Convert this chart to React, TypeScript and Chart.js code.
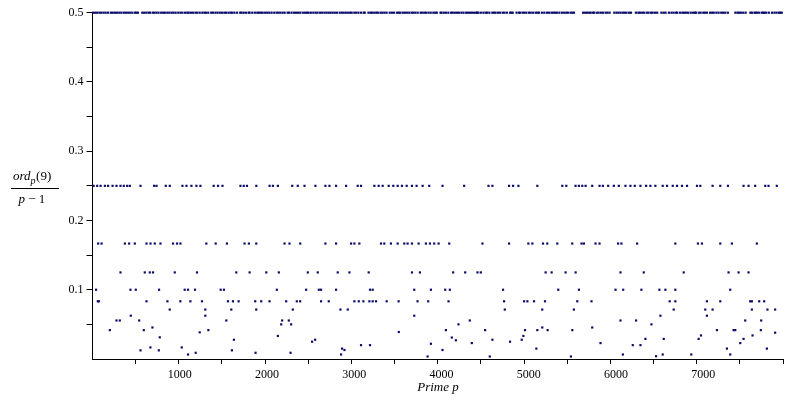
import React, { useEffect, useRef } from "react";
import { Chart, registerables } from "chart.js";

Chart.register(...registerables);

// Primes p where ord_p(9)/(p-1) sits on one of the main levels
const halfPrimes = [
  5, 29, 53, 79, 101, 127, 151, 179, 211, 233, 257, 281, 307, 331, 359, 383,
  409, 433, 457, 487, 503, 521, 571, 593, 617, 643, 661, 691, 709, 733, 757, 787,
  811, 829, 857, 881, 907, 929, 953, 983, 1009, 1031, 1061, 1087, 1103, 1129, 1153, 1181,
  1201, 1229, 1259, 1283, 1301, 1327, 1361, 1381, 1409, 1433, 1459, 1483, 1511, 1531, 1559, 1583,
  1601, 1627, 1657, 1693, 1709, 1733, 1759, 1789, 1801, 1831, 1861, 1889, 1907, 1931, 1951, 1979,
  2003, 2027, 2053, 2083, 2111, 2131, 2153, 2179, 2203, 2237, 2251, 2281, 2309, 2333, 2357, 2381,
  2411, 2437, 2459, 2477, 2503, 2531, 2557, 2579, 2609, 2633, 2659, 2683, 2707, 2729, 2753, 2777,
  2801, 2833, 2857, 2879, 2903, 2927, 2953, 2971, 3001, 3023, 3049, 3079, 3109, 3121, 3163, 3187,
  3203, 3229, 3253, 3271, 3301, 3323, 3347, 3371, 3407, 3433, 3457, 3491, 3511, 3529, 3557, 3581,
  3607, 3631, 3659, 3677, 3701, 3727, 3761, 3779, 3803, 3823, 3851, 3877, 3907, 3929, 3947, 3989,
  4001, 4027, 4051, 4079, 4111, 4129, 4153, 4177, 4201, 4229, 4253, 4283, 4303, 4327, 4349, 4373,
  4397, 4409, 4423, 4451, 4481, 4507, 4523, 4549, 4583, 4603, 4621, 4649, 4673, 4703, 4723, 4751,
  4787, 4801, 4817, 4861, 4889, 4903, 4931, 4951, 4973, 5003, 5023, 5051, 5081, 5101, 5119, 5153,
  5179, 5209, 5233, 5261, 5281, 5303, 5323, 5351, 5381, 5407, 5431, 5449, 5479, 5501, 5519, 5623,
  5647, 5669, 5693, 5711, 5737, 5749, 5779, 5801, 5827, 5851, 5881, 5903, 5927, 5981, 6007, 6029,
  6053, 6079, 6101, 6121, 6151, 6173, 6229, 6257, 6277, 6301, 6323, 6353, 6373, 6401, 6421, 6449,
  6473, 6521, 6547, 6569, 6607, 6637, 6661, 6689, 6701, 6733, 6761, 6781, 6803, 6827, 6857, 6883,
  6907, 6917, 6949, 6971, 7001, 7019, 7043, 7079, 7103, 7121, 7151, 7177, 7207, 7229, 7253, 7283,
  7369, 7393, 7411, 7433, 7459, 7487, 7541, 7561, 7589, 7603, 7621, 7643, 7673, 7691, 7703, 7723,
  7753, 7789, 7817, 7841, 7867, 7883, 7901,
];

const quarterPrimes = [
  13, 54, 93, 142, 179, 230, 275, 321, 359, 397, 428, 550, 706, 734, 840, 886, 1031, 1077,
  1134, 1191, 1237, 1389, 1439, 1490, 1696, 1734, 1771, 1878, 2030, 2068, 2125, 2289, 2353,
  2430, 2555, 2670, 2716, 2792, 2907, 3040, 3078, 3231, 3280, 3326, 3395, 3448, 3498, 3547,
  3601, 3662, 3715, 3784, 3860, 4012, 4260, 4539, 4584, 4775, 4821, 4882, 5099, 5385, 5431,
  5537, 5575, 5614, 5652, 5728, 5812, 5850, 5911, 5976, 6033, 6109, 6166, 6216, 6281, 6346,
  6395, 6452, 6536, 6586, 6651, 6700, 6757, 6815, 6929, 6967, 7108, 7196, 7284, 7463, 7520,
  7596, 7711, 7749, 7844,
];

const sixthPrimes = [
  65, 104, 371, 420, 485, 619, 665, 714, 779, 923, 969, 1008, 1305, 1412, 1541, 1743, 1793,
  1877, 2201, 2258, 2381, 2670, 2792, 2964, 3002, 3059, 3307, 3345, 3421, 3498, 3574, 3612,
  3662, 3738, 3822, 3868, 3917, 3967, 4089, 4470, 4775, 4996, 5042, 5164, 5213, 5328, 5499,
  5606, 5633, 5766, 5812, 6025, 6063, 6243, 6681, 6940, 6986, 7196, 7329, 7615,
];

const eighthPrimes = [
  321, 599, 657, 694, 943, 1198, 1648, 1801, 1992, 2136, 2468, 2582, 2811, 2945, 3166, 3662,
  3753, 4134, 4272, 4413, 4451, 5194, 5263, 5423, 5538, 6052, 6319, 6777, 7291, 7406, 7520,
];

const tenthPrimes = [
  41, 435, 496, 763, 1057, 1095, 1175, 1469, 1507, 2113, 2449, 2594, 2620, 2792, 3181, 3212,
  3688, 3879, 4043, 4096, 4706, 5339, 5576, 5995, 6083, 6292, 6498, 6567, 6681, 7310,
];

const twelfthPrimes = [
  61, 73, 619, 859, 1007, 1122, 1255, 1553, 1610, 1675, 1865, 1934, 2029, 2220, 2342, 2380,
  2620, 2708, 3002, 3052, 3105, 3174, 3212, 3250, 3372, 3509, 3726, 3848, 4081, 4718, 4947,
  4985, 5061, 5187, 5557, 5720, 6616, 6681, 7043, 7196, 7539, 7558, 7642, 7699,
];

const fourteenthPrimes = [
  885, 1293, 1591, 1877, 2296, 2842, 2926, 4726, 5155, 5518, 6662, 7024, 7108, 7558, 7737, 7825,
];

const levelRatios = [0.5, 0.25, 0.1667, 0.125, 0.1, 0.0833, 0.0714];

// Scattered small ratios (prime, ratio)
const lowPrimes = [
  439, 1293, 275, 313, 535, 1534, 2174, 2250, 2163, 2277, 687, 199, 588, 1328, 1229, 2125,
  771, 1621, 2552, 2517, 664, 1023, 550, 760, 1598, 1183, 1869, 2270, 1095,
  3688, 4325, 4195, 5156, 4051, 4500, 4958, 5099, 5217, 5500, 3511, 4939, 4119, 4584, 4920,
  4165, 4786, 4348, 3879, 3078, 3181, 2861, 5088, 2888, 4012, 2849, 3841, 4554, 5484,
  6510, 7043, 6052, 6231, 7482, 7665, 6407, 5728, 7158, 7349, 7368, 7661, 7825, 6975, 7566,
  6338, 6548, 6948, 7463, 5823, 7425, 6193, 6281, 7272, 7730, 6079, 6536, 7310, 6864, 6460,
];
const lowRatios = [
  0.0625, 0.0625, 0.0556, 0.0556, 0.0556, 0.0556, 0.0556, 0.0556, 0.05, 0.05, 0.0455, 0.0417,
  0.0417, 0.0417, 0.0385, 0.0333, 0.0313, 0.0278, 0.0278, 0.025, 0.0167, 0.0167, 0.0125,
  0.0125, 0.0125, 0.009, 0.009, 0.009, 0.0065,
  0.0625, 0.0556, 0.05, 0.0455, 0.0417, 0.0417, 0.0417, 0.0417, 0.0417, 0.0417, 0.039,
  0.0333, 0.031, 0.0278, 0.0278, 0.027, 0.025, 0.023, 0.022, 0.02, 0.02, 0.015, 0.015, 0.013,
  0.013, 0.0065, 0.0036, 0.0036, 0.0036,
  0.0625, 0.0625, 0.0556, 0.0556, 0.0556, 0.0556, 0.05, 0.0455, 0.0417, 0.0417, 0.0417,
  0.0417, 0.038, 0.034, 0.034, 0.029, 0.029, 0.029, 0.029, 0.023, 0.023, 0.02, 0.02, 0.015,
  0.015, 0.0065, 0.0065, 0.0065, 0.0065, 0.004,
];

const xTickLabels = ["1000", "2000", "3000", "4000", "5000", "6000", "7000"];
const yTickLabels = ["0.1", "0.2", "0.3", "0.4", "0.5"];

const NAVY = "#0a0a6a";
const SERIF = '"Liberation Serif", "Times New Roman", serif';

const titlePlugin = {
  id: "axisTitles",
  afterDraw(chart: any) {
    const ctx = chart.ctx as CanvasRenderingContext2D;
    const xScale = chart.scales.x;
    ctx.save();
    ctx.fillStyle = "#000";
    // x tick labels
    ctx.font = `12px ${SERIF}`;
    ctx.textAlign = "center";
    ctx.textBaseline = "alphabetic";
    xTickLabels.forEach((lab) => {
      const px = xScale.getPixelForValue(Number(lab));
      ctx.fillText(lab, px, 377.5);
    });
    // x title
    ctx.font = `italic 13px ${SERIF}`;
    ctx.fillText("Prime p", 438, 390.5);
    // y title as fraction
    ctx.textAlign = "left";
    let x = 13;
    ctx.font = `italic 13px ${SERIF}`;
    ctx.fillText("ord", x, 179.5);
    x += ctx.measureText("ord").width;
    ctx.font = `italic 10px ${SERIF}`;
    ctx.fillText("p", x, 184);
    x += ctx.measureText("p").width + 0.5;
    ctx.font = `13px ${SERIF}`;
    ctx.fillText("(9)", x, 179.5);
    // fraction bar
    ctx.strokeStyle = "#000";
    ctx.lineWidth = 1;
    ctx.beginPath();
    ctx.moveTo(11, 188.5);
    ctx.lineTo(59, 188.5);
    ctx.stroke();
    // denominator
    let dx = 18.5;
    ctx.font = `italic 13px ${SERIF}`;
    ctx.fillText("p", dx, 202.5);
    dx += ctx.measureText("p").width;
    ctx.font = `13px ${SERIF}`;
    ctx.fillText(" \u2212 1", dx, 202.5);
    ctx.restore();
  },
};

function yLabel(v: any): string {
  const n = Number(v);
  const s = n.toFixed(1);
  const isMajor = Math.abs(n * 10 - Math.round(n * 10)) < 1e-6;
  return isMajor && yTickLabels.indexOf(s) >= 0 ? s : "";
}

export default function App() {
  const ref = useRef<HTMLCanvasElement>(null);

  useEffect(() => {
    if (!ref.current) return;
    const levelSets = [
      halfPrimes,
      quarterPrimes,
      sixthPrimes,
      eighthPrimes,
      tenthPrimes,
      twelfthPrimes,
      fourteenthPrimes,
    ];
    const pointStyle = {
      pointStyle: "rect",
      pointRadius: 1.55,
      pointBackgroundColor: NAVY,
      pointBorderWidth: 0,
      showLine: false,
      clip: false,
    };
    const datasets: any[] = levelSets.map((xs, i) => ({
      data: xs.map((p) => ({ x: p, y: levelRatios[i] })),
      ...pointStyle,
    }));
    datasets.push({
      data: lowPrimes.map((p, i) => ({ x: p, y: lowRatios[i] })),
      ...pointStyle,
    });

    const chart = new Chart(ref.current, {
      type: "scatter",
      data: { datasets },
      options: {
        responsive: false,
        animation: false,
        events: [],
        layout: { padding: { top: 12.7, right: 11, left: 0, bottom: 0 } },
        plugins: { legend: { display: false }, tooltip: { enabled: false } },
        scales: {
          x: {
            type: "linear",
            min: 0,
            max: 7915,
            afterFit: (s: any) => {
              s.height = 41;
            },
            grid: {
              display: true,
              drawOnChartArea: false,
              drawTicks: true,
              tickLength: 5,
              color: (c: any) => (c.tick && c.tick.value === 0 ? "rgba(0,0,0,0)" : "#000"),
            },
            border: { display: true, color: "#000", width: 1 },
            ticks: {
              display: false,
              stepSize: 500,
              autoSkip: false,
              maxRotation: 0,
              minRotation: 0,
            },
          },
          y: {
            type: "linear",
            min: 0,
            max: 0.5,
            afterFit: (s: any) => {
              s.width = 92.5;
            },
            grid: {
              display: true,
              drawOnChartArea: false,
              drawTicks: true,
              tickLength: 6,
              color: (c: any) => (c.tick && c.tick.value === 0 ? "rgba(0,0,0,0)" : "#000"),
            },
            border: { display: true, color: "#000", width: 1 },
            ticks: {
              stepSize: 0.05,
              autoSkip: false,
              color: "#000",
              padding: 3,
              font: { family: SERIF, size: 12 },
              callback: (v: any) => yLabel(v),
            },
          },
        },
      },
      plugins: [titlePlugin],
    });
    return () => chart.destroy();
  }, []);

  return (
    <div style={{ position: "fixed", left: 0, top: 0, width: 794, height: 400, background: "#fff" }}>
      <canvas ref={ref} width={794} height={400} style={{ display: "block" }} />
    </div>
  );
}
